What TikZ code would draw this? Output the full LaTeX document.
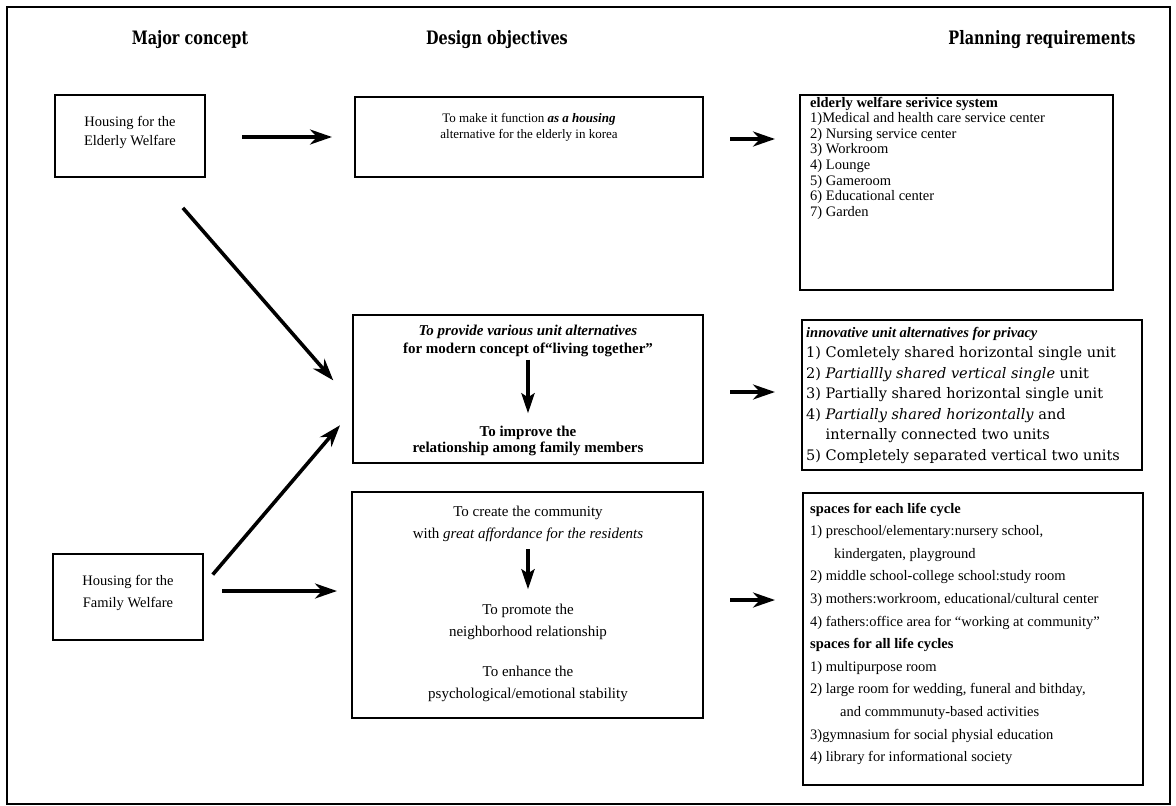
\documentclass[tikz,border=0pt]{standalone}
\usepackage{fontspec}
\setmainfont{Liberation Serif}
\newfontfamily\hdrfont{DejaVu Serif}
\newfontfamily\slabfont{DejaVu Serif}
\usetikzlibrary{arrows.meta,calc}
\newcommand\myfL{\fontsize{14.5}{17}\selectfont}
\newcommand\myfMa{\fontsize{13}{15}\selectfont}
\newcommand\myfMb{\fontsize{15}{17}\selectfont}
\newcommand\myfMc{\fontsize{15}{17}\selectfont}
\newcommand\myfR{\fontsize{14.5}{17}\selectfont}
\newcommand\myfS{\slabfont\fontsize{14.5}{17}\selectfont}
\newcommand\myhdr[1]{\scalebox{0.78}[1]{#1}}
\begin{document}
\begin{tikzpicture}[x=1pt,y=-1pt,
  box/.style={draw, line width=1.8pt, inner sep=0pt, outer sep=0pt},
  arr/.style={line width=3.6pt, -{Stealth[length=22pt,width=15pt,inset=7pt]}},
  varr/.style={line width=4pt, -{Stealth[length=20pt,width=13pt,inset=4pt]}},
  hdr/.style={font=\hdrfont\bfseries\fontsize{18.5}{21}\selectfont, anchor=base, inner sep=0pt},
  ct/.style={anchor=base, inner sep=0pt},
  lt/.style={anchor=base west, inner sep=0pt},
]
\useasboundingbox (0,0) rectangle (1176,806);
\node[draw, line width=1.1pt, inner sep=0pt, minimum width=1163pt, minimum height=797pt] (frame) at (588.5,405.5) {};

% headers
\node[hdr] (h1) at (190,44) {\myhdr{Major concept}};
\node[hdr] (h2) at (497,44) {\myhdr{Design objectives}};
\node[hdr] (h3) at (1042,44) {\myhdr{Planning requirements}};

% boxes
\node[box, minimum width=150pt, minimum height=82pt] (L1) at (130,136) {};
\node[box, minimum width=150pt, minimum height=86pt] (L2) at (128,597) {};
\node[box, minimum width=348pt, minimum height=80pt] (M1) at (529,137) {};
\node[box, minimum width=350pt, minimum height=148pt] (M2) at (528,389) {};
\node[box, minimum width=351pt, minimum height=226pt] (M3) at (527.5,605) {};
\node[box, minimum width=313pt, minimum height=195pt] (R1) at (956.5,192.5) {};
\node[box, minimum width=340pt, minimum height=150pt] (R2) at (972,395) {};
\node[box, minimum width=340pt, minimum height=292pt] (R3) at (973,639) {};

% left texts
\node[ct, font=\myfL] (l1a) at (130,126) {Housing for the};
\node[ct, font=\myfL] (l1b) at (130,145) {Elderly Welfare};
\node[ct, font=\myfL] (l2a) at (128,585) {Housing for the};
\node[ct, font=\myfL] (l2b) at (128,607) {Family Welfare};

% middle texts
\node[ct, font=\myfMa] (m1a) at (529,122) {To make it function \textbf{\textit{as a housing}}};
\node[ct, font=\myfMa] (m1b) at (529,138) {alternative for the elderly in korea};

\node[ct, font=\myfMb] (m2a) at (528,335) {\textbf{\textit{To provide various unit alternatives}}};
\node[ct, font=\myfMb] (m2b) at (528,353) {\textbf{for modern concept of“living together”}};
\node[ct, font=\myfMb] (m2c) at (528,436) {\textbf{To improve the}};
\node[ct, font=\myfMb] (m2d) at (528,452) {\textbf{relationship among family members}};

\node[ct, font=\myfMc] (m3a) at (528,516) {To create the community};
\node[ct, font=\myfMc] (m3b) at (528,538) {with \textit{great affordance for the residents}};
\node[ct, font=\myfMc] (m3c) at (528,614) {To promote the};
\node[ct, font=\myfMc] (m3d) at (528,636) {neighborhood relationship};
\node[ct, font=\myfMc] (m3e) at (528,676) {To enhance the};
\node[ct, font=\myfMc] (m3f) at (528,698) {psychological/emotional stability};

% right texts
\foreach [count=\i from 0] \s in {
  {\textbf{elderly welfare serivice system}},
  {1)Medical and health care service center},
  {2) Nursing service center},
  {3) Workroom},
  {4) Lounge},
  {5) Gameroom},
  {6) Educational center},
  {7) Garden}}
  \node[lt, font=\myfR] (r1-\i) at (810,107+15.6*\i) {\s};

\node[lt, font=\myfR] (r2-0) at (806,337) {\textbf{\textit{innovative unit alternatives for privacy}}};
\foreach [count=\i from 1] \s in {
  {1) Comletely shared horizontal single unit},
  {2) \textit{Partiallly shared vertical single} unit},
  {3) Partially shared horizontal single unit},
  {4) \textit{Partially shared horizontally} and},
  {\phantom{4) }internally connected two units},
  {5) Completely separated vertical two units}}
  \node[lt, font=\myfS] (r2-\i) at (806,337+20.5*\i) {\s};

\foreach [count=\i from 0] \s in {
  {\textbf{spaces for each life cycle}},
  {1) preschool/elementary:nursery school,},
  {\hspace{24pt}kindergaten, playground},
  {2) middle school-college school:study room},
  {3) mothers:workroom, educational/cultural center},
  {4) fathers:office area for “working at community”},
  {\textbf{spaces for all life cycles}},
  {1) multipurpose room},
  {2) large room for wedding, funeral and bithday,},
  {\hspace{30pt}and commmunuty-based activities},
  {3)gymnasium for social physial education},
  {4) library for informational society}}
  \node[lt, font=\myfR] (r3-\i) at (810,513+22.6*\i) {\s};

% connectors
\draw[arr, shorten <=37pt, shorten >=23pt] ($(L1.east)+(0,1)$) -- ($(M1.west)$);
\draw[arr, shorten <=41pt, shorten >=30pt] ($(L1.south west)!0.673!(L1.south east)$) -- ($(M2.west)+(0,14)$);
\draw[arr, shorten <=15pt, shorten >=20pt] ($(L2.east)+(0,-11)$) -- ($(M2.west)+(0,21)$);
\draw[arr, shorten <=19pt, shorten >=15pt] ($(L2.east)+(0,-6)$) -- ($(M3.west)+(0,-14)$);

\draw[arr, shorten <=27pt, shorten >=25pt] ($(M1.east)+(0,2)$) -- ($(M1.east -| R1.west)+(0,2)$);
\draw[arr, shorten <=27pt, shorten >=27pt] ($(M2.east)+(0,3)$) -- ($(M2.east -| R2.west)+(0,3)$);
\draw[arr, shorten <=27pt, shorten >=28pt] ($(M3.east)+(0,-5)$) -- ($(M3.east -| R3.west)+(0,-5)$);

\draw[varr, shorten <=3pt, shorten >=12pt] (m2b.south) -- (m2c.north);
\draw[varr, shorten <=8pt, shorten >=14pt] (m3b.south) -- (m3c.north);
\end{tikzpicture}
\end{document}
